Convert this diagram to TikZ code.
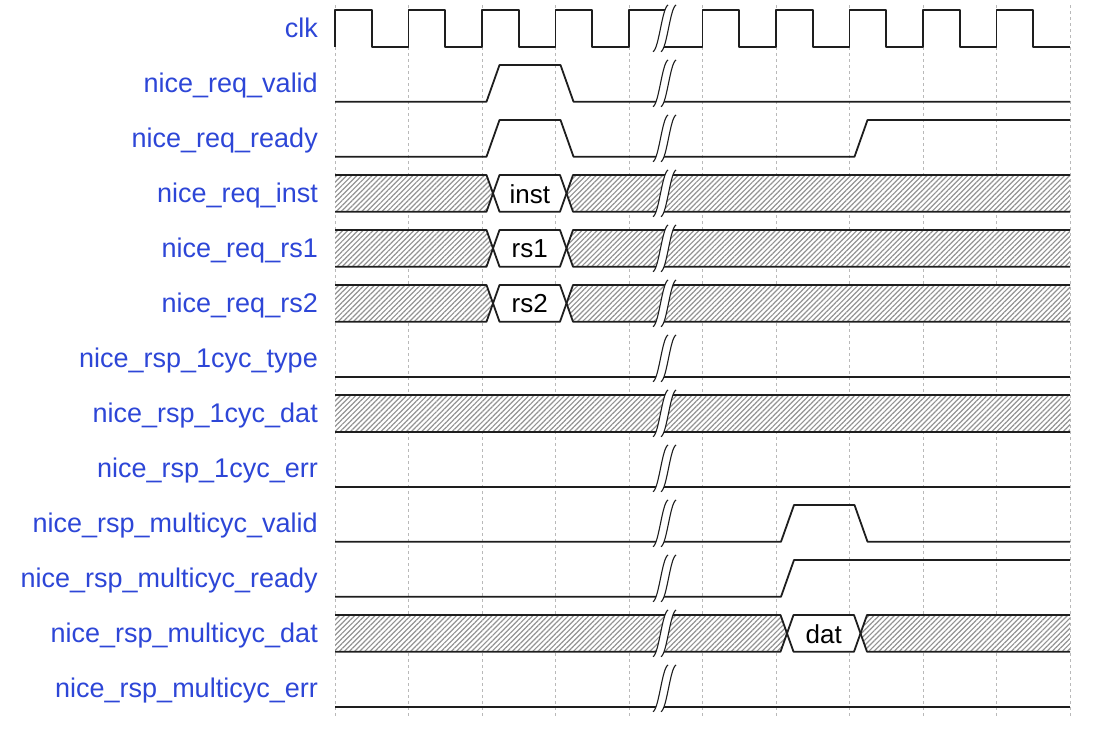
\documentclass[tikz,border=0pt]{standalone}
\usepackage{fontspec}
\setmainfont{Liberation Sans}
\usetikzlibrary{patterns.meta}
\definecolor{sigblue}{RGB}{45,70,215}
\definecolor{wire}{RGB}{30,30,30}
\begin{document}
\begin{tikzpicture}[
    x=1pt, y=-1pt,
    sig/.style={
        draw=wire,
        line width=1.8pt,
        line join=round
    },
    hatch/.style={
        pattern={Lines[angle=45,distance=3.6pt,line width=1.2pt]},
        pattern color=gray!85
    },
    gridline/.style={
        gray!55,
        line width=0.8pt,
        dash pattern=on 3pt off 3pt
    },
    signame/.style={
        font=\fontsize{27}{30}\selectfont,
        text=sigblue,
        anchor=base east,
        inner sep=0pt
    },
    busval/.style={
        font=\fontsize{26}{30}\selectfont,
        text=black,
        inner sep=0pt
    },
    brk/.style={
        draw=wire,
        line width=1.1pt
    }
]
\useasboundingbox (0,0) rectangle (1118,731);

\def\xo{335}
\def\xe{1070}
\def\tcyc{73.5}
\def\rowsep{55}
\def\yhi{10}
\def\ylo{46.7}
\def\ymid{28.35}

%% --- Grille verticale ---
\foreach \k in {0,...,10} {
    \draw[gridline] ({\xo+\k*\tcyc},5) -- ({\xo+\k*\tcyc},716);
}

%% --- Noms des signaux ---
\foreach \name [count=\r from 0] in {clk, nice\_req\_valid, nice\_req\_ready,
    nice\_req\_inst, nice\_req\_rs1, nice\_req\_rs2, nice\_rsp\_1cyc\_type,
    nice\_rsp\_1cyc\_dat, nice\_rsp\_1cyc\_err, nice\_rsp\_multicyc\_valid,
    nice\_rsp\_multicyc\_ready, nice\_rsp\_multicyc\_dat, nice\_rsp\_multicyc\_err} {
    \node[signame] (lbl\r) at (318,{37+\r*\rowsep}) {\name};
}

%% --- Horloge ---
\draw[sig] (\xo,\ylo) -- (\xo,\yhi)
    \foreach \k in {0,...,3} {
        -- ({\xo+\k*\tcyc+36.75},\yhi) -- ({\xo+\k*\tcyc+36.75},\ylo)
        -- ({\xo+(\k+1)*\tcyc},\ylo) -- ({\xo+(\k+1)*\tcyc},\yhi)
    } -- (670,\yhi);
\draw[sig] (657,\ylo) -- ({\xo+5*\tcyc},\ylo)
    \foreach \k in {5,...,9} {
        -- ({\xo+\k*\tcyc},\yhi) -- ({\xo+\k*\tcyc+36.75},\yhi)
        -- ({\xo+\k*\tcyc+36.75},\ylo) -- ({\xo+(\k+1)*\tcyc},\ylo)
    };

%% --- nice_req_valid / nice_req_ready ---
\draw[sig] (\xo,{\ylo+\rowsep}) -- (486.5,{\ylo+\rowsep}) -- (499.5,{\yhi+\rowsep})
    -- (560.5,{\yhi+\rowsep}) -- (573.5,{\ylo+\rowsep}) -- (\xe,{\ylo+\rowsep});
\draw[sig] (\xo,{\ylo+2*\rowsep}) -- (486.5,{\ylo+2*\rowsep}) -- (499.5,{\yhi+2*\rowsep})
    -- (560.5,{\yhi+2*\rowsep}) -- (573.5,{\ylo+2*\rowsep}) -- (854.5,{\ylo+2*\rowsep})
    -- (867.5,{\yhi+2*\rowsep}) -- (\xe,{\yhi+2*\rowsep});

%% --- Bus avec une donnee (inst, rs1, rs2, dat) ---
\foreach \r/\k/\val in {3/2/inst, 4/2/rs1, 5/2/rs2, 11/6/dat} {
    \pgfmathsetmacro\xa{\xo+\k*\tcyc+4.5}
    \pgfmathsetmacro\xd{\xo+(\k+1)*\tcyc+17.5}
    \pgfmathsetmacro\yh{\yhi+\r*\rowsep}
    \pgfmathsetmacro\yl{\ylo+\r*\rowsep}
    \pgfmathsetmacro\ym{\ymid+\r*\rowsep}
    \fill[white] (\xo,\yh) rectangle (\xe,\yl);
    \path[hatch] (\xo,\yh) -- (\xa,\yh) -- ({\xa+6.5},\ym) -- (\xa,\yl) -- (\xo,\yl) -- cycle;
    \path[hatch] (\xe,\yh) -- (\xd,\yh) -- ({\xd-6.5},\ym) -- (\xd,\yl) -- (\xe,\yl) -- cycle;
    \draw[sig] (\xo,\yh) -- (\xa,\yh) -- ({\xa+13},\yl) -- ({\xd-13},\yl) -- (\xd,\yh) -- (\xe,\yh);
    \draw[sig] (\xo,\yl) -- (\xa,\yl) -- ({\xa+13},\yh) -- ({\xd-13},\yh) -- (\xd,\yl) -- (\xe,\yl);
    \node[busval] (\val) at ({(\xa+\xd)/2},{\ym+0.5}) {\val};
}

%% --- Bus sans donnee (nice_rsp_1cyc_dat) ---
\fill[white] (\xo,{\yhi+7*\rowsep}) rectangle (\xe,{\ylo+7*\rowsep});
\path[hatch] (\xo,{\yhi+7*\rowsep}) rectangle (\xe,{\ylo+7*\rowsep});
\draw[sig] (\xo,{\yhi+7*\rowsep}) -- (\xe,{\yhi+7*\rowsep});
\draw[sig] (\xo,{\ylo+7*\rowsep}) -- (\xe,{\ylo+7*\rowsep});

%% --- Signaux toujours bas ---
\foreach \r in {6,8,12} {
    \draw[sig] (\xo,{\ylo+\r*\rowsep}) -- (\xe,{\ylo+\r*\rowsep});
}

%% --- nice_rsp_multicyc_valid / nice_rsp_multicyc_ready ---
\draw[sig] (\xo,{\ylo+9*\rowsep}) -- (781,{\ylo+9*\rowsep}) -- (794,{\yhi+9*\rowsep})
    -- (854.5,{\yhi+9*\rowsep}) -- (867.5,{\ylo+9*\rowsep}) -- (\xe,{\ylo+9*\rowsep});
\draw[sig] (\xo,{\ylo+10*\rowsep}) -- (781,{\ylo+10*\rowsep}) -- (794,{\yhi+10*\rowsep})
    -- (\xe,{\yhi+10*\rowsep});

%% --- Coupures (//) ---
\foreach \r in {0,...,12} {
    \pgfmathsetmacro\yt{\yhi-5+\r*\rowsep}
    \pgfmathsetmacro\yb{\ylo+5+\r*\rowsep}
    \fill[white] (653,\yb) .. controls (659,\yb-3) and (662,\yt+3) .. (668,\yt)
        -- (676,\yt) .. controls (670,\yt+3) and (667,\yb-3) .. (661,\yb) -- cycle;
    \draw[brk] (653,\yb) .. controls (659,\yb-3) and (662,\yt+3) .. (668,\yt);
    \draw[brk] (661,\yb) .. controls (667,\yb-3) and (670,\yt+3) .. (676,\yt);
}

\end{tikzpicture}
\end{document}
